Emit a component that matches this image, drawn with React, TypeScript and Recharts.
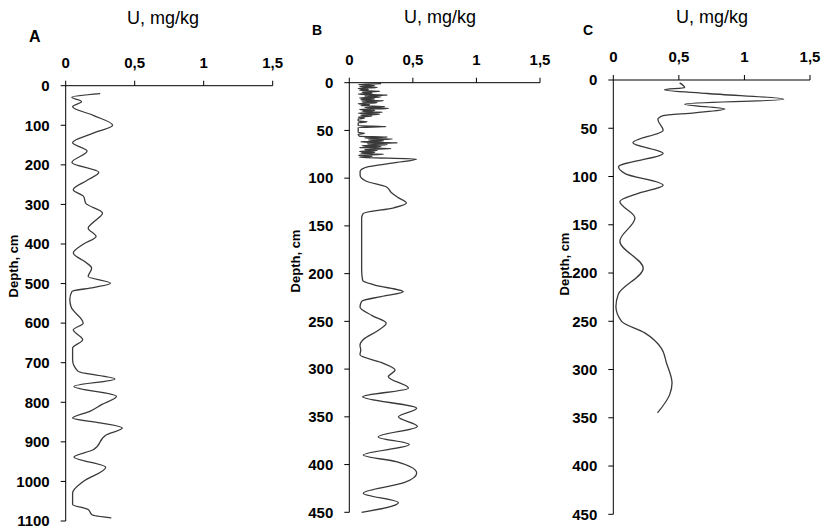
import React from "react";
import { LineChart, Line, XAxis, YAxis } from "recharts";

// U content (mg/kg) vs depth (cm) for three cores
const uTicks = [0, 0.5, 1, 1.5];
const depthTicksA = [0, 100, 200, 300, 400, 500, 600, 700, 800, 900, 1000, 1100];
const depthTicksBC = [0, 50, 100, 150, 200, 250, 300, 350, 400, 450];

const depthA = [
  20, 29, 40, 53, 75, 100, 120, 144, 165, 194, 219, 240, 263, 280, 297, 322, 345, 360, 381, 400,
  423, 445, 461, 482, 499, 510, 520, 540, 560, 600, 617, 642, 663, 693, 722, 741, 760, 785, 806, 823,
  840, 852, 865, 882, 920, 938, 964, 1000, 1029, 1058, 1071, 1084, 1092,
];
const uA = [
  0.25, 0.045, 0.115, 0.05, 0.2, 0.34, 0.2, 0.05, 0.155, 0.045, 0.24, 0.15, 0.055, 0.13, 0.145, 0.267, 0.2, 0.163, 0.22, 0.13,
  0.055, 0.14, 0.188, 0.163, 0.325, 0.2, 0.045, 0.03, 0.04, 0.127, 0.055, 0.123, 0.05, 0.05, 0.09, 0.356, 0.06, 0.368, 0.26, 0.175,
  0.05, 0.248, 0.41, 0.296, 0.2, 0.06, 0.29, 0.127, 0.05, 0.05, 0.163, 0.19, 0.33,
];

const depthB = [
  1, 2, 3, 4, 5, 6, 7, 8, 9, 10, 11, 12, 13, 14, 15, 16, 17, 18, 19, 20,
  21, 22, 23, 24, 25, 26, 27, 28, 29, 30, 31, 32, 33, 34, 35, 36, 37, 38, 40, 41,
  42, 45, 46, 47, 52, 53, 54, 56, 57, 58, 59, 60, 61, 62, 63, 64, 65, 66, 67, 68,
  69, 70, 71, 72, 73, 74, 75, 76, 77, 78, 80, 84, 88, 93, 97, 103, 109, 115, 120, 126,
  131, 137, 142, 170, 196, 207, 212, 219, 224, 229, 235, 244, 252, 260, 269, 275, 280, 285, 293, 301,
  308, 320, 329, 341, 350, 360, 371, 379, 390, 397, 409, 419, 430, 440, 450,
];
const uB = [
  0.25, 0.07, 0.2, 0.08, 0.22, 0.07, 0.15, 0.08, 0.24, 0.1, 0.18, 0.07, 0.3, 0.12, 0.25, 0.08, 0.2, 0.09, 0.27, 0.1,
  0.22, 0.07, 0.16, 0.09, 0.28, 0.12, 0.31, 0.08, 0.2, 0.1, 0.26, 0.07, 0.24, 0.09, 0.18, 0.07, 0.12, 0.07, 0.07, 0.14,
  0.07, 0.07, 0.29, 0.07, 0.07, 0.12, 0.07, 0.08, 0.3, 0.12, 0.34, 0.15, 0.27, 0.09, 0.38, 0.14, 0.3, 0.1, 0.25, 0.08,
  0.33, 0.12, 0.22, 0.08, 0.2, 0.09, 0.27, 0.07, 0.18, 0.08, 0.53, 0.35, 0.15, 0.085, 0.085, 0.13, 0.29, 0.33, 0.38, 0.45,
  0.35, 0.11, 0.097, 0.097, 0.097, 0.105, 0.2, 0.425, 0.25, 0.097, 0.084, 0.18, 0.29, 0.22, 0.11, 0.084, 0.09, 0.084, 0.25, 0.36,
  0.307, 0.465, 0.105, 0.53, 0.386, 0.535, 0.228, 0.472, 0.11, 0.37, 0.53, 0.43, 0.11, 0.386, 0.097,
];

const depthC = [
  3, 8, 10, 14, 20, 25, 30, 34, 37, 41, 52, 65, 76, 90, 97, 109, 117, 126, 143, 167,
  195, 222, 235, 250, 262, 278, 293, 314, 326, 345,
];
const uC = [
  0.506, 0.544, 0.39, 0.72, 1.3, 0.544, 0.85, 0.62, 0.38, 0.34, 0.38, 0.15, 0.38, 0.04, 0.09, 0.38, 0.2, 0.05, 0.165, 0.05,
  0.228, 0.038, 0.02, 0.063, 0.24, 0.367, 0.405, 0.448, 0.43, 0.337,
];

const FONT = '"Liberation Sans", Arial, sans-serif';
const tickStyle = { fontSize: 15, fontWeight: 700, fill: "#000", fontFamily: FONT };
const fmt = (v: number) => String(v).replace(".", ",");

type PanelProps = {
  left: number;
  width: number;
  margin: { top: number; right: number; bottom: number; left: number };
  depth: number[];
  u: number[];
  maxDepth: number;
  depthTicks: number[];
};

function Panel({ left, width, margin, depth, u, maxDepth, depthTicks }: PanelProps) {
  const data = depth.map((d, i) => ({ depth: d, u: u[i] }));
  return (
    <div style={{ position: "absolute", left, top: 0 }}>
      <LineChart layout="vertical" width={width} height={529} data={data} margin={margin}>
        <XAxis
          type="number"
          orientation="top"
          domain={[0, 1.5]}
          ticks={uTicks}
          tickFormatter={fmt}
          height={40}
          tick={tickStyle}
          tickSize={5}
          tickMargin={13}
          stroke="#000"
          interval={0}
        />
        <YAxis
          type="number"
          dataKey="depth"
          domain={[0, maxDepth]}
          ticks={depthTicks}
          width={60}
          tick={tickStyle}
          tickSize={5}
          tickMargin={11}
          stroke="#000"
          interval={0}
        />
        <Line
          type="monotone"
          dataKey="u"
          stroke="#3a3a3a"
          strokeWidth={1.3}
          dot={false}
          isAnimationActive={false}
        />
      </LineChart>
    </div>
  );
}

export default function App() {
  const title = { fontSize: 18, fontFamily: FONT, fill: "#000" };
  const letter = { fontWeight: 700, fontFamily: FONT, fill: "#000" };
  const depthLbl = { fontSize: 13, fontWeight: 700, fontFamily: FONT, fill: "#000" };
  return (
    <div style={{ position: "absolute", left: 0, top: 0, width: 825, height: 529, background: "#fff" }}>
      <Panel
        left={0}
        width={290}
        margin={{ top: 45.7, right: 17.3, bottom: 8, left: 5.7 }}
        depth={depthA}
        u={uA}
        maxDepth={1100}
        depthTicks={depthTicksA}
      />
      <Panel
        left={280}
        width={280}
        margin={{ top: 42.7, right: 20, bottom: 16.7, left: 9.3 }}
        depth={depthB}
        u={uB}
        maxDepth={450}
        depthTicks={depthTicksBC}
      />
      <Panel
        left={545}
        width={280}
        margin={{ top: 40, right: 15, bottom: 14.7, left: 8.3 }}
        depth={depthC}
        u={uC}
        maxDepth={450}
        depthTicks={depthTicksBC}
      />
      <svg width={825} height={529} style={{ position: "absolute", left: 0, top: 0, pointerEvents: "none" }}>
        <text x={163} y={24} textAnchor="middle" style={title}>U, mg/kg</text>
        <text x={440} y={23} textAnchor="middle" style={title}>U, mg/kg</text>
        <text x={712} y={23} textAnchor="middle" style={title}>U, mg/kg</text>
        <text x={29} y={42} style={{ ...letter, fontSize: 16 }}>A</text>
        <text x={312} y={35} style={{ ...letter, fontSize: 14 }}>B</text>
        <text x={583} y={35} style={{ ...letter, fontSize: 14 }}>C</text>
        <text x={13} y={266} textAnchor="middle" dominantBaseline="central" transform="rotate(-90 13 266)" style={depthLbl}>Depth, cm</text>
        <text x={295} y={261} textAnchor="middle" dominantBaseline="central" transform="rotate(-90 295 261)" style={depthLbl}>Depth, cm</text>
        <text x={564} y={264} textAnchor="middle" dominantBaseline="central" transform="rotate(-90 564 264)" style={depthLbl}>Depth, cm</text>
      </svg>
    </div>
  );
}
